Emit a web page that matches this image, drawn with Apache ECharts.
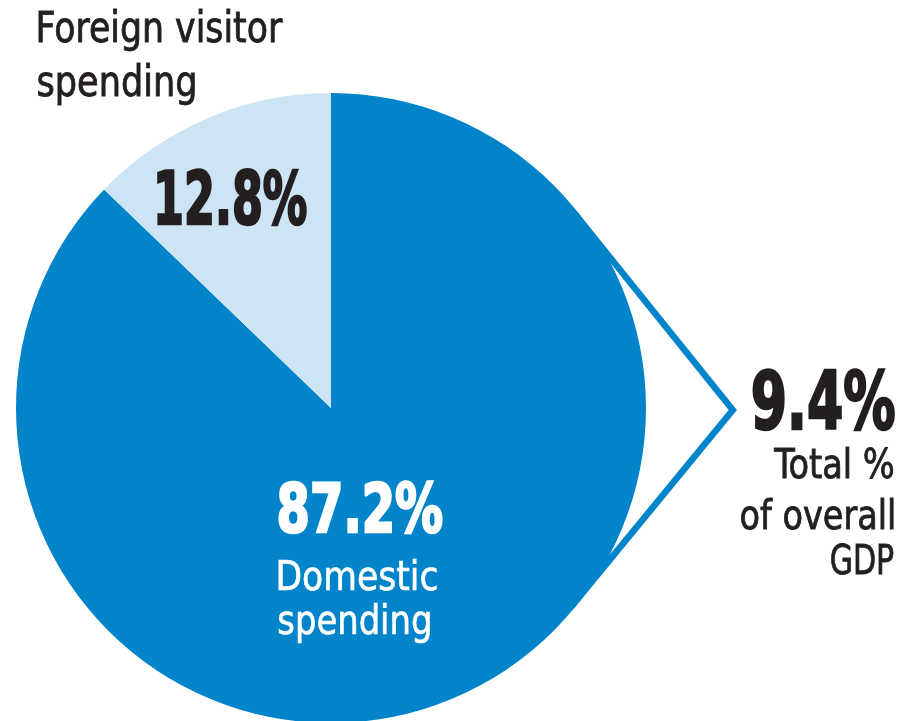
<!DOCTYPE html>
<html>
<head>
<meta charset="utf-8">
<script src="https://cdn.jsdelivr.net/npm/echarts@6/dist/echarts.min.js"></script>
<style>
  html, body { margin: 0; padding: 0; background: #ffffff; }
  #chart { width: 902px; height: 721px; }
</style>
</head>
<body>
<div id="chart"></div>
<script>
// Tourism spending split and its share of GDP
const categories = ['Domestic spending', 'Foreign visitor spending'];
const shares = [87.2, 12.8];
const gdpShare = 9.4;
const gdpCaption = ['Total %', 'of overall', 'GDP'];

const DARK = '#0284ca';
const LIGHT = '#cce4f3';
const INK = '#231f20';
const FONT = '"DejaVu Sans Condensed", "Liberation Sans Narrow", "Roboto", sans-serif';

// Pie geometry (pixels)
const cx = 331, cy = 408, r = 315;

// Chevron: outer edges are tangents from the apex to the pie
const apex = [cx + 406, cy + 2];
const lineW = 6.5;
function tangentPoints(a) {
  const dx = cx - a[0], dy = cy - a[1];
  const d = Math.hypot(dx, dy);
  const base = Math.atan2(dy, dx);
  const half = Math.asin(r / d);
  const len = Math.sqrt(d * d - r * r);
  return [base - half, base + half].map(function (ang) {
    return [a[0] + len * Math.cos(ang), a[1] + len * Math.sin(ang)];
  });
}
const tp = tangentPoints(apex);
const halfAngle = Math.asin(r / Math.hypot(cx - apex[0], cy - apex[1]));
const innerApex = [apex[0] - lineW / Math.sin(halfAngle), apex[1]];
const innerPts = tp.map(function (p) {
  const ux = (cx - p[0]) / r, uy = (cy - p[1]) / r;
  return [p[0] + ux * lineW, p[1] + uy * lineW];
});

function pct(v) { return v.toFixed(1) + '%'; }

// Condensed text: squeeze horizontally so the inked glyphs span [left, right],
// with the baseline at `base`. `heavy` thickens the strokes a little.
const measureCtx = document.createElement('canvas').getContext('2d');
function txt(text, left, right, base, size, weight, color, heavy) {
  const font = weight + ' ' + size + 'px ' + FONT;
  measureCtx.font = font;
  const m = measureCtx.measureText(text);
  const inkL = m.actualBoundingBoxLeft || 0;
  const inkW = (m.actualBoundingBoxRight || m.width) + inkL + heavy;
  const s = (right - left) / inkW;
  return {
    type: 'text',
    z: 20,
    silent: true,
    x: left + s * (inkL + heavy / 2),
    y: base - 0.28 * size - heavy / 2,
    scaleX: s,
    style: {
      text: text,
      x: 0,
      y: 0,
      font: font,
      fill: color,
      stroke: color,
      lineWidth: heavy,
      align: 'left',
      verticalAlign: 'middle'
    }
  };
}

const foreignWords = categories[1].split(' ');
const domesticWords = categories[0].split(' ');

const chart = echarts.init(document.getElementById('chart'), null, { renderer: 'canvas' });
chart.setOption({
  animation: false,
  backgroundColor: '#ffffff',
  series: [{
    type: 'pie',
    z: 10,
    center: [cx, cy],
    radius: [0, r],
    startAngle: 90,
    clockwise: true,
    silent: true,
    label: { show: false },
    labelLine: { show: false },
    itemStyle: { borderWidth: 0 },
    data: [
      { name: categories[0], value: shares[0], itemStyle: { color: DARK } },
      { name: categories[1], value: shares[1], itemStyle: { color: LIGHT } }
    ]
  }],
  graphic: [
    {
      type: 'polygon', z: 1, silent: true,
      shape: { points: [[cx, cy], tp[0], apex, tp[1]] },
      style: { fill: DARK }
    },
    {
      type: 'polygon', z: 2, silent: true,
      shape: { points: [[cx, cy], innerPts[0], innerApex, innerPts[1]] },
      style: { fill: '#ffffff' }
    },
    txt(foreignWords.slice(0, 2).join(' '), 38, 283, 43, 42, 'normal', INK, 0.8),
    txt(foreignWords.slice(2).join(' '), 38, 195, 97, 42, 'normal', INK, 0.8),
    txt(pct(shares[1]), 157, 307, 227, 73, 'bold', INK, 2.5),
    txt(pct(shares[0]), 278, 443, 535, 67, 'bold', '#ffffff', 2.5),
    txt(domesticWords[0], 278, 437, 591, 40, 'normal', '#ffffff', 0.6),
    txt(domesticWords[1], 278, 430, 635, 40, 'normal', '#ffffff', 0.6),
    txt(pct(gdpShare), 752, 895, 432, 80, 'bold', INK, 2.5),
    txt(gdpCaption[0], 773, 894, 479, 40, 'normal', INK, 0.8),
    txt(gdpCaption[1], 741, 894, 530, 40, 'normal', INK, 0.8),
    txt(gdpCaption[2], 831, 894, 575, 40, 'normal', INK, 0.8)
  ]
});
</script>
</body>
</html>
